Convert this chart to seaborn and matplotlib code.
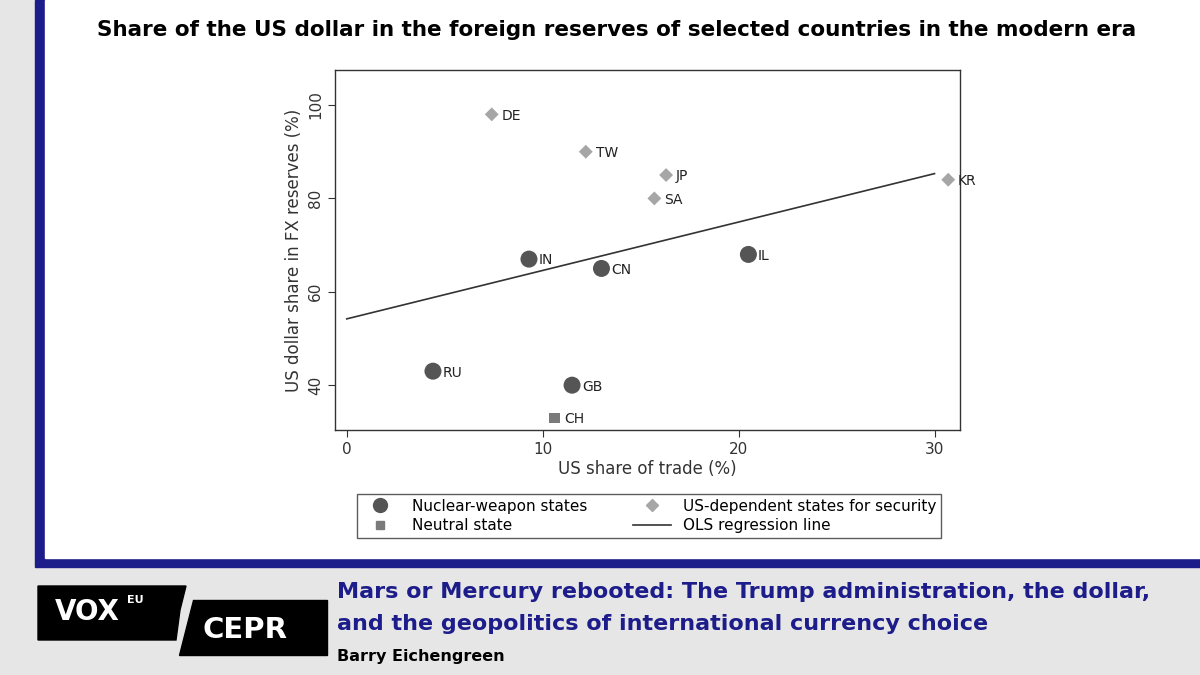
import matplotlib
matplotlib.use("Agg")
import matplotlib.pyplot as plt
from matplotlib.lines import Line2D
from matplotlib.patches import Rectangle, Polygon
import numpy as np
import pandas as pd
import seaborn as sns

# ---------------------------------------------------------------------------
# Data
# ---------------------------------------------------------------------------
countries = ["DE", "TW", "JP", "SA", "KR", "IN", "CN", "IL", "RU", "GB", "CH"]
trade_share = [7.4, 12.2, 16.3, 15.7, 30.7, 9.3, 13.0, 20.5, 4.4, 11.5, 10.6]
usd_share = [98, 90, 85, 80, 84, 67, 65, 68, 43, 40, 33]
groups = (["US-dependent states for security"] * 5
          + ["Nuclear-weapon states"] * 5 + ["Neutral state"])
ols_x = [0, 30]
ols_intercept, ols_slope = 54.2, 1.037

df = pd.DataFrame({"country": countries, "trade": trade_share,
                   "usd": usd_share, "group": groups})

BLUE = "#1c1c8a"
BG = "#e6e6e6"

fig = plt.figure(figsize=(12, 6.75), dpi=100)
fig.patch.set_facecolor(BG)
# white panel with blue frame
fig.add_artist(Rectangle((35 / 1200, 1 - 567 / 675), 1165 / 1200, 567 / 675,
                         transform=fig.transFigure, color=BLUE, zorder=0))
fig.add_artist(Rectangle((45 / 1200, 1 - 558 / 675), 1155 / 1200, 558 / 675,
                         transform=fig.transFigure, color="white", zorder=0))

fig.text(617 / 1200, 1 - 30 / 675,
         "Share of the US dollar in the foreign reserves of selected countries in the modern era",
         ha="center", va="center", fontsize=15.5, fontweight="bold")

ax = fig.add_axes([335 / 1200, 1 - 430 / 675, 625 / 1200, 360 / 675])
styles = {
    "Nuclear-weapon states": dict(marker="o", color="#555555", s=150),
    "US-dependent states for security": dict(marker="D", color="#a6a6a6", s=50),
    "Neutral state": dict(marker="s", color="#7a7a7a", s=55),
}
for g, st in styles.items():
    sub = df[df.group == g]
    sns.scatterplot(data=sub, x="trade", y="usd", ax=ax, marker=st["marker"],
                    color=st["color"], s=st["s"], edgecolor="none", zorder=3)
for _, r in df.iterrows():
    ax.annotate(r.country, (r.trade, r.usd), xytext=(7, -1), textcoords="offset points",
                va="center", fontsize=10, color="#222222")
xs = np.array(ols_x)
sns.lineplot(x=xs, y=ols_intercept + ols_slope * xs, ax=ax, color="#333333", lw=1.2)

ax.set_xlim(-0.6, 31.3)
ax.set_ylim(30.4, 107.5)
ax.set_xticks([0, 10, 20, 30])
ax.set_yticks([40, 60, 80, 100])
for lab in ax.get_yticklabels():
    lab.set_rotation(90)
    lab.set_va("center")
ax.tick_params(labelsize=11, colors="#333333", length=5)
ax.set_xlabel("US share of trade (%)", fontsize=12, color="#333333", labelpad=2)
ax.set_ylabel("US dollar share in FX reserves (%)", fontsize=12, color="#333333")
for sp in ax.spines.values():
    sp.set_color("#333333")
    sp.set_linewidth(1)

handles = [
    Line2D([], [], marker="o", color="#555555", ls="", ms=10),
    Line2D([], [], marker="s", color="#7a7a7a", ls="", ms=6),
    Line2D([], [], marker="D", color="#a6a6a6", ls="", ms=6),
    Line2D([], [], color="#333333", lw=1.2),
]
labels = ["Nuclear-weapon states", "Neutral state",
          "US-dependent states for security", "OLS regression line"]
fig.legend(handles, labels, ncol=2, loc="center",
           bbox_to_anchor=(649 / 1200, 1 - 516 / 675), fontsize=11,
           frameon=True, fancybox=False, edgecolor="#333333",
           columnspacing=3, handlelength=2.5, borderpad=0.3, labelspacing=0.3)

# footer
fig.add_artist(Polygon([[38 / 1200, 1 - 586 / 675], [186 / 1200, 1 - 586 / 675],
                        [180 / 1200, 1 - 610 / 675], [176 / 1200, 1 - 640 / 675],
                        [38 / 1200, 1 - 640 / 675]],
                       transform=fig.transFigure, color="black"))
fig.add_artist(Polygon([[193 / 1200, 1 - 600 / 675], [327 / 1200, 1 - 600 / 675],
                        [327 / 1200, 1 - 655 / 675], [179 / 1200, 1 - 655 / 675]],
                       transform=fig.transFigure, color="black"))
fig.text(55 / 1200, 1 - 612 / 675, "VOX", color="white", fontsize=20,
         fontweight="bold", va="center")
fig.text(127 / 1200, 1 - 600 / 675, "EU", color="white", fontsize=8,
         fontweight="bold", va="center")
fig.text(202 / 1200, 1 - 630 / 675, "CEPR", color="white", fontsize=21,
         fontweight="bold", va="center")
fig.text(337 / 1200, 1 - 592 / 675,
         "Mars or Mercury rebooted: The Trump administration, the dollar,",
         color=BLUE, fontsize=16, fontweight="bold", va="center")
fig.text(337 / 1200, 1 - 624 / 675,
         "and the geopolitics of international currency choice",
         color=BLUE, fontsize=16, fontweight="bold", va="center")
fig.text(337 / 1200, 1 - 656 / 675, "Barry Eichengreen", color="black",
         fontsize=11.5, fontweight="bold", va="center")

fig.savefig("out.png", dpi=100, facecolor=fig.get_facecolor())
